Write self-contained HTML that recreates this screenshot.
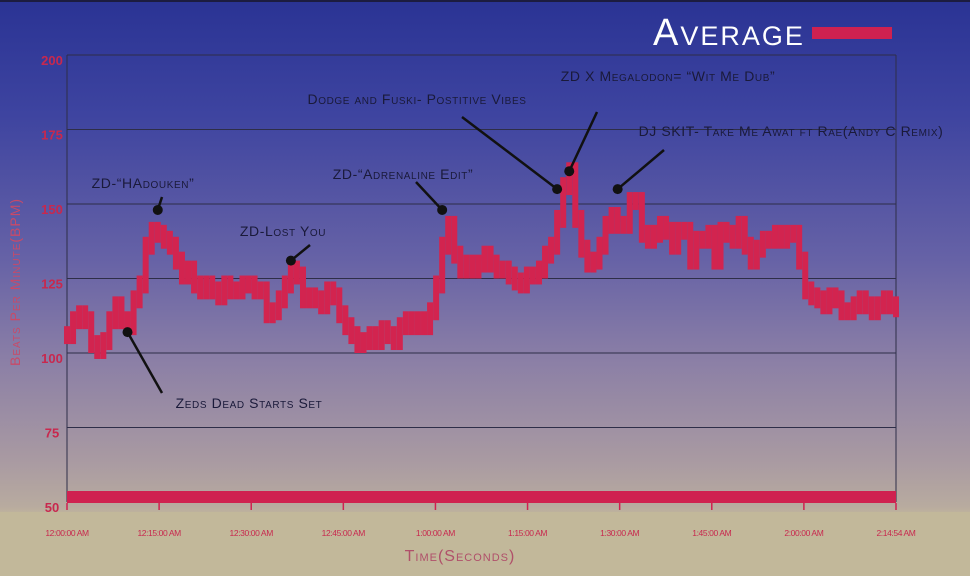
<!DOCTYPE html>
<html><head><meta charset="utf-8"><style>
body{margin:0;}
#wrap{width:970px;height:576px;position:relative;overflow:hidden;background:linear-gradient(to bottom,#2a3394 0%,#3e44a0 20%,#6662a6 45%,#8a7ea6 62%,#a99aa2 80%,#b8ab9f 88%,#c3b99b 90%,#c3b99b 100%);font-family:"Liberation Sans",sans-serif;}
svg text{font-family:"Liberation Sans",sans-serif;}
.ann{font-variant:small-caps;font-size:14px;fill:#1a1a3a;letter-spacing:0.6px;}
</style></head><body>
<div id="wrap">
<svg id="svg" width="970" height="576">
  <rect x="0" y="512" width="970" height="64" fill="#c2b89a"/>
  <rect x="0" y="0" width="970" height="2" fill="#1c1c40"/>
  <g id="grid"></g>
  <g id="series"></g>
  <g id="axes"></g>
  <text x="653" y="45" font-size="38" fill="#ffffff" style="font-variant:small-caps;letter-spacing:2px">Average</text>
  <rect x="812" y="27" width="80" height="12" fill="#cf2150"/>
  <text transform="translate(20,282) rotate(-90)" text-anchor="middle" font-size="14" fill="#c84a68" style="font-variant:small-caps;letter-spacing:1px">Beats Per Minute(BPM)</text>
  <text x="460" y="561" text-anchor="middle" font-size="16" fill="#b0506a" style="font-variant:small-caps;letter-spacing:1px">Time(Seconds)</text>
  <g id="ann"></g>
</svg>
</div>
<script>
const yTicks=[50,75,100,125,150,175,200];
const xTickLabels=["12:00:00 AM","12:15:00 AM","12:30:00 AM","12:45:00 AM","1:00:00 AM","1:15:00 AM","1:30:00 AM","1:45:00 AM","2:00:00 AM","2:14:54 AM"];
const bpm=[106,111,113,111,103,101,104,111,116,111,109,118,123,136,141,140,138,136,131,126,128,123,121,123,121,119,123,121,121,123,123,121,121,113,114,118,123,128,126,118,119,118,116,121,119,113,109,106,103,104,106,104,108,106,104,109,111,109,111,109,114,123,136,143,133,128,130,128,130,133,130,128,128,126,124,123,126,126,128,133,136,145,156,161,145,135,130,131,136,143,146,143,143,151,151,140,138,140,143,141,136,141,141,131,138,138,140,131,141,140,138,143,136,131,135,138,138,140,138,140,140,131,121,119,118,116,119,118,114,114,116,118,116,114,116,118,116,115];
const annTexts=["ZD-\u201CHAdouken\u201D","ZD-Lost You","ZD-\u201CAdrenaline Edit\u201D","Dodge and Fuski- Postitive Vibes","ZD X Megalodon= \u201CWit Me Dub\u201D","DJ SKIT- Take Me Awat ft Rae(Andy C Remix)","Zeds Dead Starts Set"];
const annIdx=[15,37,62,81,83,91,10];
const annVal=[148,131,148,155,161,155,107];

const X0=67,X1=896,Y50=502,PX=2.98;
const NS="http://www.w3.org/2000/svg";
function y(v){return Y50-(v-50)*PX;}
function xi(i){return X0+(X1-X0)*i/(bpm.length-1);}
function mk(tag,attrs,parent){const e=document.createElementNS(NS,tag);for(const k in attrs)e.setAttribute(k,attrs[k]);parent.appendChild(e);return e;}
const grid=document.getElementById('grid'),axes=document.getElementById('axes'),ser=document.getElementById('series'),ann=document.getElementById('ann');
yTicks.forEach(v=>{
  if(v>50){const l=mk('line',{x1:X0,x2:X1,y1:y(v),y2:y(v),stroke:'#2e2e48','stroke-width':1},grid);
  
  }
  const t=mk('text',{x:52,y:y(v)+10,'text-anchor':'middle','font-size':13,fill:'#c8284e','font-weight':'bold'},axes);
  t.textContent=v;
  
  
});
[X0,X1].forEach(xx=>{const l=mk('line',{x1:xx,x2:xx,y1:y(200),y2:Y50,stroke:'#2e2e48','stroke-width':1},grid);

});
const band=mk('rect',{x:X0,y:491,width:X1-X0,height:12,fill:'#cf2150'},axes);


xTickLabels.forEach((s,i)=>{
  const xx=X0+(X1-X0)*i/(xTickLabels.length-1);
  const l=mk('line',{x1:xx,x2:xx,y1:503,y2:510,stroke:'#cf2150','stroke-width':1.5},axes);
  
  
  const t=mk('text',{x:xx,y:536,'text-anchor':'middle','font-size':8.5,fill:'#c8284e',style:'letter-spacing:-0.4px'},axes);
  t.textContent=s;
  
  
});
bpm.forEach((v,i)=>{
  const xx=xi(i);
  const p=i>0?bpm[i-1]:v;
  const top=Math.max(v,p)+3,bot=Math.min(v,p)-3;
  const r=mk('rect',{x:xx-3,y:y(top),width:6,height:y(bot)-y(top),fill:'#d2244f'},ser);
  
  
});
const textPos=[[143,188],[283,236],[403,179],[417,104],[668,81],[791,136],[249,408]];
const lineStart=[[162,197],[310,245],[416,182],[462,117],[597,112],[664,150],[162,393]];
annTexts.forEach((s,k)=>{
  const dx=xi(annIdx[k]),dy=y(annVal[k]);
  const l=mk('line',{x1:lineStart[k][0],y1:lineStart[k][1],x2:dx,y2:dy,stroke:'#111','stroke-width':2.5},ann);
  
  
  const c=mk('circle',{cx:dx,cy:dy,r:5,fill:'#111'},ann);
  
  
  const t=mk('text',{x:textPos[k][0],y:textPos[k][1],'text-anchor':'middle',class:'ann'},ann);
  t.textContent=s;
  
  
});
</script>
</body></html>
